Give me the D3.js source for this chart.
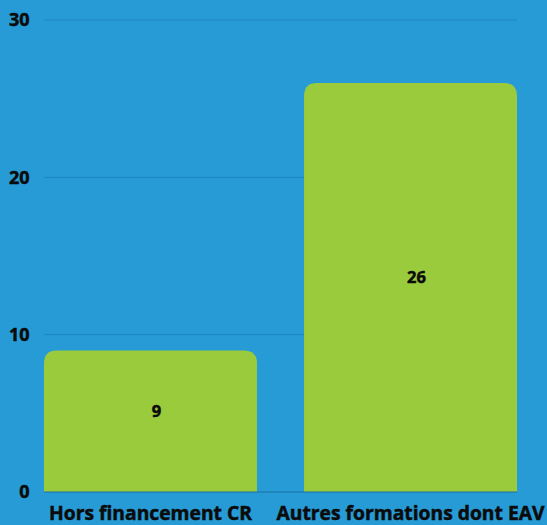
<!DOCTYPE html>
<html>
<head>
<meta charset="utf-8">
<script src="https://cdn.jsdelivr.net/npm/d3@7"></script>
<style>
  html, body { margin: 0; padding: 0; background: #279bd6; }
  svg { display: block; }
  text { font-family: "Open Sans", sans-serif; font-weight: 700; fill: #0b0b0b; stroke: #0b0b0b; stroke-width: 0.5px; }
</style>
</head>
<body>
<svg id="chart" width="547" height="525"></svg>
<script>
const categories = ["Hors financement CR", "Autres formations dont EAV"];
const values = [9, 26];
const yTicks = [0, 10, 20, 30];

const W = 547, H = 525;
const margin = { top: 20, right: 30, bottom: 33, left: 44 };
const svg = d3.select("#chart");

const x = d3.scaleBand()
  .domain(categories)
  .range([margin.left, W - margin.right])
  .paddingInner(0.181)
  .paddingOuter(0);

const y = d3.scaleLinear()
  .domain([0, 30])
  .range([H - margin.bottom, margin.top]);

svg.append("rect").attr("width", W).attr("height", H).attr("fill", "#279bd6");

// horizontal grid lines
svg.append("g")
  .selectAll("line")
  .data(yTicks.filter(d => d > 0))
  .join("line")
  .attr("x1", margin.left)
  .attr("x2", W - margin.right)
  .attr("y1", d => y(d))
  .attr("y2", d => y(d))
  .attr("stroke", "#1c85c0")
  .attr("stroke-width", 1);

// bars with rounded top corners
const r = 13;
function barPath(x0, w, yTop, yBase) {
  const rr = Math.min(r, (yBase - yTop), w / 2);
  return `M${x0},${yBase}V${yTop + rr}Q${x0},${yTop} ${x0 + rr},${yTop}` +
    `H${x0 + w - rr}Q${x0 + w},${yTop} ${x0 + w},${yTop + rr}V${yBase}Z`;
}

const rows = categories.map((c, i) => ({ c, v: values[i] }));

svg.append("g")
  .selectAll("path")
  .data(rows)
  .join("path")
  .attr("d", d => barPath(x(d.c), x.bandwidth(), y(d.v), y(0)))
  .attr("fill", "#9acb3c");

// baseline
svg.append("line")
  .attr("x1", margin.left)
  .attr("x2", W - margin.right)
  .attr("y1", y(0))
  .attr("y2", y(0))
  .attr("stroke", "#1a6ea3")
  .attr("stroke-width", 1);

// value labels, slightly above the middle of each bar
svg.append("g")
  .selectAll("text")
  .data(rows)
  .join("text")
  .attr("x", d => x(d.c) + x.bandwidth() / 2 + 6)
  .attr("y", d => (y(d.v) + y(0)) / 2 - 10)
  .attr("dy", "0.35em")
  .attr("text-anchor", "middle")
  .style("font-size", "16.5px")
  .text(d => d.v);

// y axis tick labels
svg.append("g")
  .selectAll("text")
  .data(yTicks)
  .join("text")
  .attr("x", 29.5)
  .attr("y", d => y(d))
  .attr("dy", "0.35em")
  .attr("text-anchor", "end")
  .style("font-size", "18px")
  .text(d => d);

// category labels
svg.append("g")
  .selectAll("text")
  .data(categories)
  .join("text")
  .attr("x", d => x(d) + x.bandwidth() / 2)
  .attr("y", 520)
  .attr("text-anchor", "middle")
  .style("font-size", "19.3px")
  .text(d => d);
</script>
</body>
</html>
